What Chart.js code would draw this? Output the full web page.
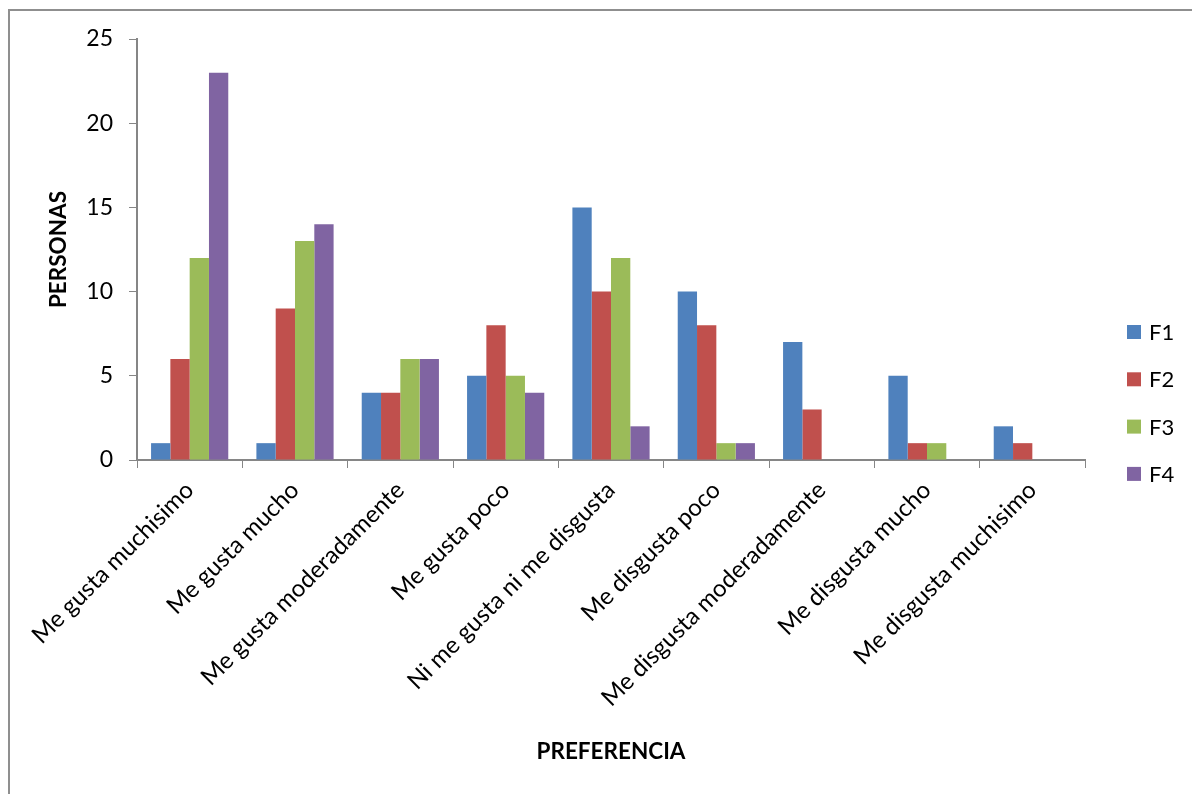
<!DOCTYPE html>
<html>
<head>
<meta charset="utf-8">
<script src="https://cdn.jsdelivr.net/npm/chart.js@4/dist/chart.umd.min.js"></script>
<style>
  html, body { margin: 0; padding: 0; background: #fff; }
  canvas { display: block; }
</style>
</head>
<body>
<canvas id="pref-chart" width="1192" height="794"></canvas>
<script>
const categories = [
    "Me gusta muchisimo",
    "Me gusta mucho",
    "Me gusta moderadamente",
    "Me gusta poco",
    "Ni me gusta ni me disgusta",
    "Me disgusta poco",
    "Me disgusta moderadamente",
    "Me disgusta mucho",
    "Me disgusta muchisimo"
]
const seriesNames = ["F1", "F2", "F3", "F4"]
const f1 = [1, 1, 4, 5, 15, 10, 7, 5, 2]
const f2 = [6, 9, 4, 8, 10, 8, 3, 1, 1]
const f3 = [12, 13, 6, 5, 12, 1, 0, 1, 0]
const f4 = [23, 14, 6, 4, 2, 1, 0, 0, 0]
const yTicks = [0, 5, 10, 15, 20, 25]
const colors = ["#4F81BD", "#C0504D", "#9BBB59", "#8064A2"]

const fontFamily = "Lato, 'Open Sans', sans-serif"
const axisGray = "#868686"

// frame lines + legend drawn by hand (Excel style)
const excelBits = {
    id: "excelBits",
    afterDraw(chart) {
        const ctx = chart.ctx
        ctx.save()
        ctx.strokeStyle = "#8f8f8f"
        ctx.lineWidth = 2
        ctx.beginPath()
        ctx.moveTo(9, 794)
        ctx.lineTo(9, 10)
        ctx.lineTo(1192, 10)
        ctx.stroke()

        ctx.font = "22px " + fontFamily
        ctx.textBaseline = "middle"
        ctx.fillStyle = "#000"
        chart.data.datasets.forEach((ds, i) => {
            let y = 332 + i * 47.3
            ctx.fillStyle = ds.backgroundColor
            ctx.fillRect(1127, y - 7, 14, 14)
            ctx.fillStyle = "#000"
            ctx.fillText(ds.label, 1149, y + 1)
        })
        ctx.restore()
    }
}

const datasets = [f1, f2, f3, f4].map((vals, i) => ({
    label: seriesNames[i],
    data: vals,
    backgroundColor: colors[i],
    categoryPercentage: 0.733,
    barPercentage: 1.0
}))

const config = {
    type: "bar",
    data: { labels: categories, datasets: datasets },
    options: {
        responsive: false,
        devicePixelRatio: 1,
        animation: false,
        layout: { padding: { left: 10, right: 107, top: 39, bottom: 0 } },
        plugins: {
            legend: { display: false },
            tooltip: { enabled: false }
        },
        scales: {
            x: {
                grid: {
                    offset: true,
                    drawOnChartArea: false,
                    drawTicks: true,
                    tickLength: 8,
                    color: axisGray
                },
                border: { color: axisGray, width: 2 },
                ticks: {
                    color: "#000",
                    font: { family: fontFamily, size: 24 },
                    minRotation: 45,
                    maxRotation: 45,
                    autoSkip: false,
                    padding: 8
                },
                title: {
                    display: true,
                    text: "PREFERENCIA",
                    color: "#000",
                    font: { family: fontFamily, size: 22.5, weight: "bold" },
                    padding: { top: 0, bottom: 29 }
                },
                afterFit: (s) => { s.height = 794 - 460 }
            },
            y: {
                min: 0,
                max: 25,
                afterBuildTicks: (s) => { s.ticks = yTicks.map(v => ({ value: v })) },
                grid: {
                    drawOnChartArea: false,
                    drawTicks: true,
                    tickLength: 8,
                    color: axisGray
                },
                border: { color: axisGray, width: 2 },
                ticks: {
                    color: "#000",
                    font: { family: fontFamily, size: 23 },
                    padding: 16
                },
                title: {
                    display: true,
                    text: "PERSONAS",
                    color: "#000",
                    font: { family: fontFamily, size: 22.5, weight: "bold" },
                    padding: { top: 35, bottom: 0 }
                },
                afterFit: (s) => { s.width = 137 - 10 }
            }
        }
    },
    plugins: [excelBits]
}

new Chart(document.getElementById("pref-chart").getContext("2d"), config)
</script>
</body>
</html>
